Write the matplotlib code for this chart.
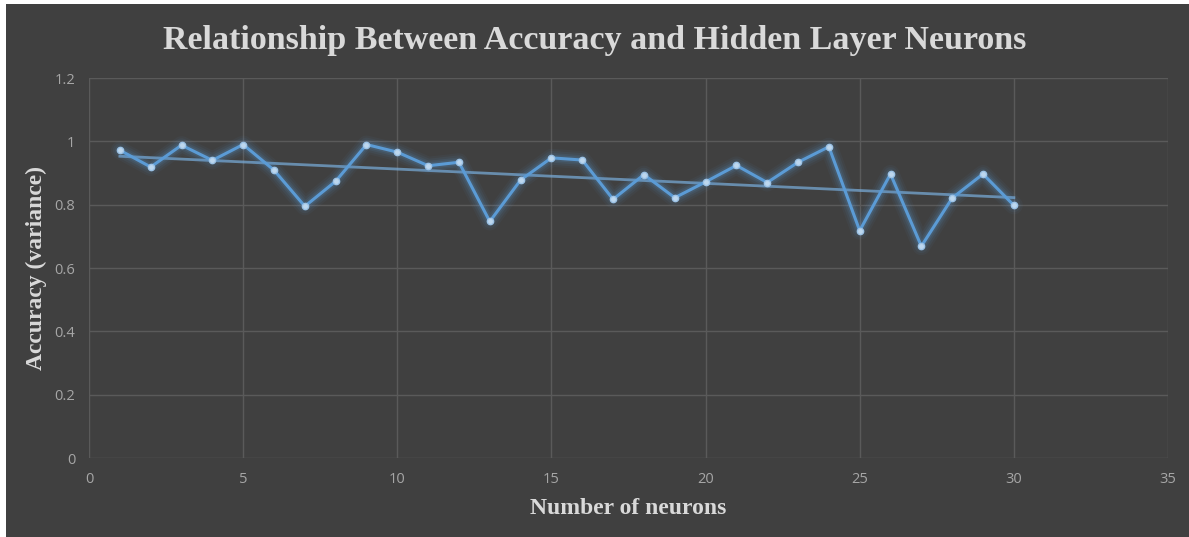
import numpy as np
import matplotlib.pyplot as plt
from matplotlib.patches import Rectangle

# Datos
neurons = list(range(1, 31))
accuracy = [0.972, 0.919, 0.988, 0.940, 0.990, 0.909, 0.795, 0.874, 0.990, 0.966,
            0.923, 0.934, 0.747, 0.878, 0.948, 0.941, 0.817, 0.895, 0.822, 0.872,
            0.924, 0.870, 0.934, 0.983, 0.718, 0.897, 0.669, 0.821, 0.897, 0.798]
x_ticks = [0, 5, 10, 15, 20, 25, 30, 35]
y_ticks = [0, 0.2, 0.4, 0.6, 0.8, 1.0, 1.2]
y_tick_labels = ['0', '0.2', '0.4', '0.6', '0.8', '1', '1.2']

bg = '#404040'
grid_col = '#5a5a5a'
text_col = '#d9d9d9'
tick_col = '#a6a6a6'
blue = '#5b9bd5'

fig = plt.figure(figsize=(11.89, 5.37), dpi=100, facecolor='white')
fig.add_artist(Rectangle((6 / 1189, 0), 1, 1 - 4 / 537, transform=fig.transFigure,
                         facecolor=bg, edgecolor='none', zorder=-10))

ax = fig.add_axes([0.0749, 0.147, 0.9074, 0.7077])
ax.set_facecolor(bg)
ax.set_xlim(0, 35)
ax.set_ylim(0, 1.2)
ax.set_xticks(x_ticks)
ax.set_yticks(y_ticks)
ax.set_yticklabels(y_tick_labels)
ax.grid(True, color=grid_col, linewidth=1)
ax.set_axisbelow(True)
for s in ax.spines.values():
    s.set_visible(False)
ax.tick_params(length=0, colors=tick_col, labelsize=10.5, pad=10)
for lbl in ax.get_xticklabels() + ax.get_yticklabels():
    lbl.set_family('Open Sans')

# Línea de tendencia lineal
coef = np.polyfit(neurons, accuracy, 1)
trend = np.polyval(coef, neurons)
ax.plot(neurons, trend, color='#7aaedc', alpha=0.7, linewidth=2, zorder=2)

# Efecto de brillo
for w, a in [(13, 0.05), (10, 0.07), (7, 0.1), (4.5, 0.15)]:
    ax.plot(neurons, accuracy, color=blue, linewidth=w, alpha=a,
            solid_capstyle='round', solid_joinstyle='round', zorder=3)
ax.plot(neurons, accuracy, color=blue, linewidth=2.2, zorder=4,
        marker='o', markersize=4.5, markerfacecolor='#bdd7ee', markeredgecolor='#9dc3e6')

fig.text(0.5, 1 - 40 / 537, 'Relationship Between Accuracy and Hidden Layer Neurons',
         family='Liberation Serif', fontweight='bold', fontsize=24.5,
         color=text_col, ha='center', va='center')
ax.set_xlabel('Number of neurons', family='Liberation Serif', fontweight='bold',
              fontsize=17, color=text_col, labelpad=8)
ax.set_ylabel('Accuracy (variance)', family='Liberation Serif', fontweight='bold',
              fontsize=17, color=text_col, labelpad=5)

fig.savefig('out.png', dpi=100, facecolor='white')
